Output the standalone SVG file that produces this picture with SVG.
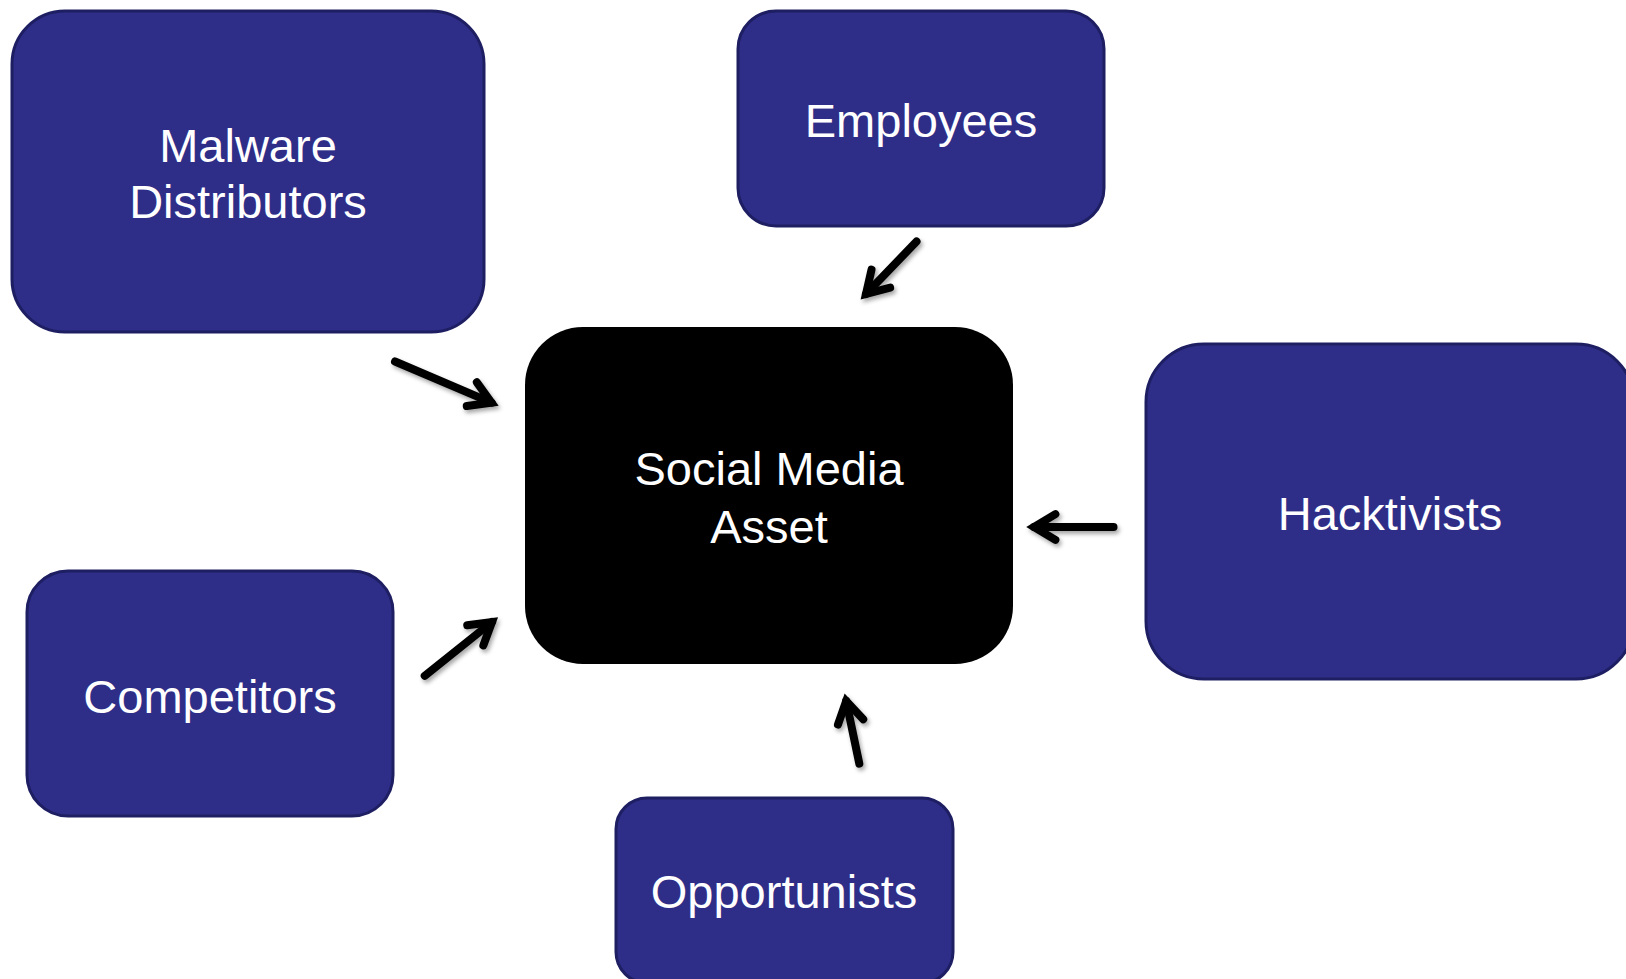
<svg xmlns="http://www.w3.org/2000/svg" width="1626" height="979" viewBox="0 0 1626 979">
  <style>
    .node { fill: #2E2E89; stroke: #1E1E63; stroke-width: 3; }
    .hub { fill: #000000; stroke: none; }
    .label { font-family: "Liberation Sans", Arial, sans-serif; font-size: 47px; fill: #FFFFFF; text-anchor: middle; }
    .conn { fill: none; stroke: #000000; stroke-width: 8; stroke-linecap: round; marker-end: url(#head); }
  </style>
  <defs>
    <filter id="shadow" x="-20%" y="-20%" width="140%" height="140%">
      <feDropShadow dx="2" dy="3" stdDeviation="2" flood-color="#000000" flood-opacity="0.35"/>
    </filter>
    <marker id="head" markerUnits="userSpaceOnUse" viewBox="-30 -20 40 40" refX="0" refY="0" markerWidth="40" markerHeight="40" orient="auto" overflow="visible">
      <path d="M -21.4,-12.9 L 0,0 L -21.4,12.9" fill="none" stroke="#000000" stroke-width="8" stroke-linecap="round" stroke-linejoin="miter"/>
    </marker>
  </defs>
  <rect width="1626" height="979" fill="#FFFFFF"/>

  <g id="node-malware">
    <rect class="node" x="12" y="11" width="472" height="321" rx="53" ry="53"/>
    <text class="label" x="248" y="162">Malware</text>
    <text class="label" x="248" y="218">Distributors</text>
  </g>
  <g id="node-employees">
    <rect class="node" x="738" y="11" width="366" height="215" rx="38" ry="38"/>
    <text class="label" x="921" y="137">Employees</text>
  </g>
  <g id="node-hub">
    <rect class="hub" x="525" y="327" width="488" height="337" rx="58" ry="58"/>
    <text class="label" x="769" y="485">Social Media</text>
    <text class="label" x="769" y="543">Asset</text>
  </g>
  <g id="node-hacktivists">
    <rect class="node" x="1146" y="344" width="488" height="335" rx="58" ry="58"/>
    <text class="label" x="1390" y="530">Hacktivists</text>
  </g>
  <g id="node-competitors">
    <rect class="node" x="27" y="571" width="366" height="245" rx="41" ry="41"/>
    <text class="label" x="210" y="713">Competitors</text>
  </g>
  <g id="node-opportunists">
    <rect class="node" x="616" y="798" width="337" height="185" rx="31" ry="31"/>
    <text class="label" x="784" y="908">Opportunists</text>
  </g>

  <g id="connectors" filter="url(#shadow)">
    <path class="conn" d="M 395,361.5 L 491.5,402.6"/>
    <path class="conn" d="M 916.5,241.5 L 866,294"/>
    <path class="conn" d="M 1113.5,527 L 1034,527"/>
    <path class="conn" d="M 424.7,675.8 L 492,622"/>
    <path class="conn" d="M 859.3,763.6 L 846.2,701"/>
  </g>
</svg>
